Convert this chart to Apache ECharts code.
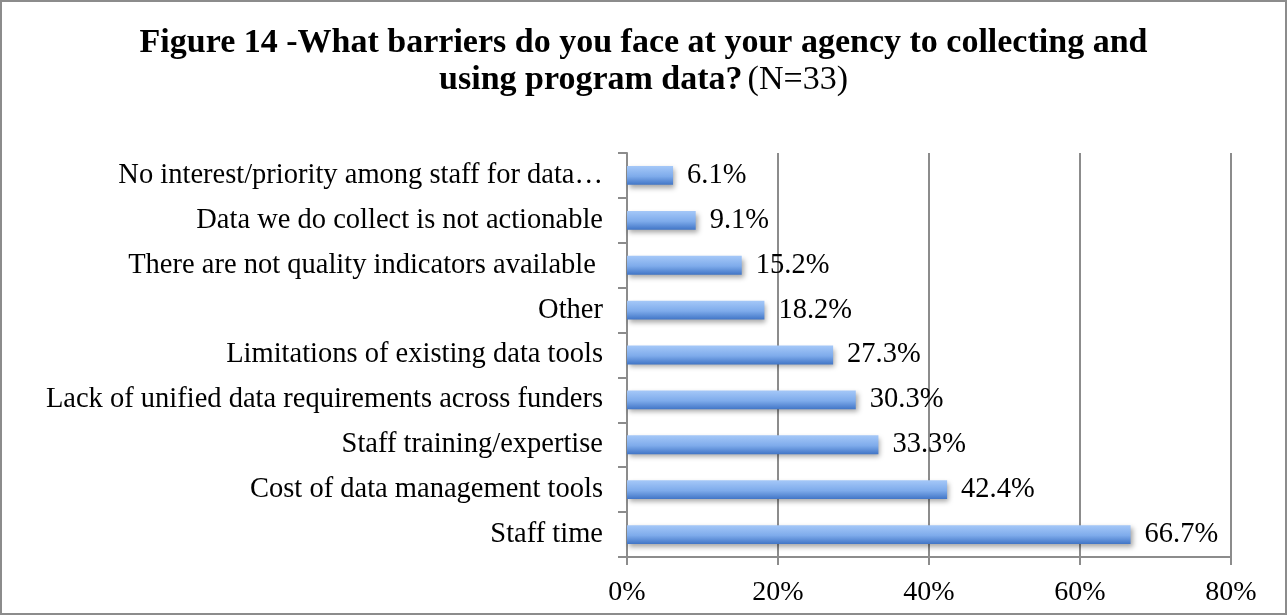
<!DOCTYPE html>
<html>
<head>
<meta charset="utf-8">
<script src="https://cdn.jsdelivr.net/npm/echarts@6/dist/echarts.min.js"></script>
<style>
  html, body { margin: 0; padding: 0; background: #fff; }
  #chart { width: 1287px; height: 615px; box-sizing: border-box; border: 2px solid #8c8c8c; }
</style>
</head>
<body>
<div id="chart"></div>
<script>
// Survey barriers, listed top to bottom
const categories = [
  'No interest/priority among staff for data…',
  'Data we do collect is not actionable',
  'There are not quality indicators available ',
  'Other',
  'Limitations of existing data tools',
  'Lack of unified data requirements across funders',
  'Staff training/expertise',
  'Cost of data management tools',
  'Staff time'
];
// Share of respondents (%)
const percentages = [6.1, 9.1, 15.2, 18.2, 27.3, 30.3, 33.3, 42.4, 66.7];
const xTicks = [0, 20, 40, 60, 80];

const serif = '"Liberation Serif", "DejaVu Serif", serif';
const chart = echarts.init(document.getElementById('chart'));

chart.setOption({
  animation: false,
  title: {
    text: '{b|Figure 14 -What barriers do you face at your agency to collecting and}\n{b|using program data?} {n|(N=33)}',
    left: 'center',
    top: 18,
    textStyle: {
      align: 'center',
      rich: {
        b: { fontFamily: serif, fontWeight: 'bold', fontSize: 34, color: '#000', lineHeight: 37, align: 'center' },
        n: { fontFamily: serif, fontWeight: 'normal', fontSize: 34, color: '#000', lineHeight: 37, align: 'center' }
      }
    }
  },
  grid: { left: 625, right: 54, top: 151, bottom: 56 },
  xAxis: {
    type: 'value',
    min: xTicks[0],
    max: xTicks[xTicks.length - 1],
    interval: 20,
    axisLine: { show: true, lineStyle: { color: '#8c8c8c', width: 2 } },
    axisTick: { show: true, length: 8, lineStyle: { color: '#8c8c8c', width: 2 } },
    axisLabel: { formatter: v => v + '%', fontFamily: serif, fontSize: 28, color: '#000', margin: 22 },
    splitLine: { show: true, lineStyle: { color: '#8c8c8c', width: 2 } }
  },
  yAxis: {
    type: 'category',
    inverse: true,
    data: categories,
    axisLine: { show: true, lineStyle: { color: '#8c8c8c', width: 2 } },
    axisTick: { show: true, length: 9, lineStyle: { color: '#8c8c8c', width: 2 } },
    axisLabel: { fontFamily: serif, fontSize: 28.5, color: '#000', margin: 24 }
  },
  series: [{
    type: 'bar',
    data: percentages,
    barCategoryGap: '58%',
    itemStyle: {
      color: new echarts.graphic.LinearGradient(0, 0, 0, 1, [
        { offset: 0, color: '#a5c8f8' },
        { offset: 0.55, color: '#7eabeb' },
        { offset: 1, color: '#4175c6' }
      ]),
      shadowColor: 'rgba(0,0,0,0.35)',
      shadowBlur: 5,
      shadowOffsetX: 2,
      shadowOffsetY: 3
    },
    label: {
      show: true,
      position: 'right',
      distance: 14,
      formatter: p => p.value.toFixed(1) + '%',
      fontFamily: serif,
      fontSize: 28.5,
      color: '#000'
    }
  }]
});
</script>
</body>
</html>
